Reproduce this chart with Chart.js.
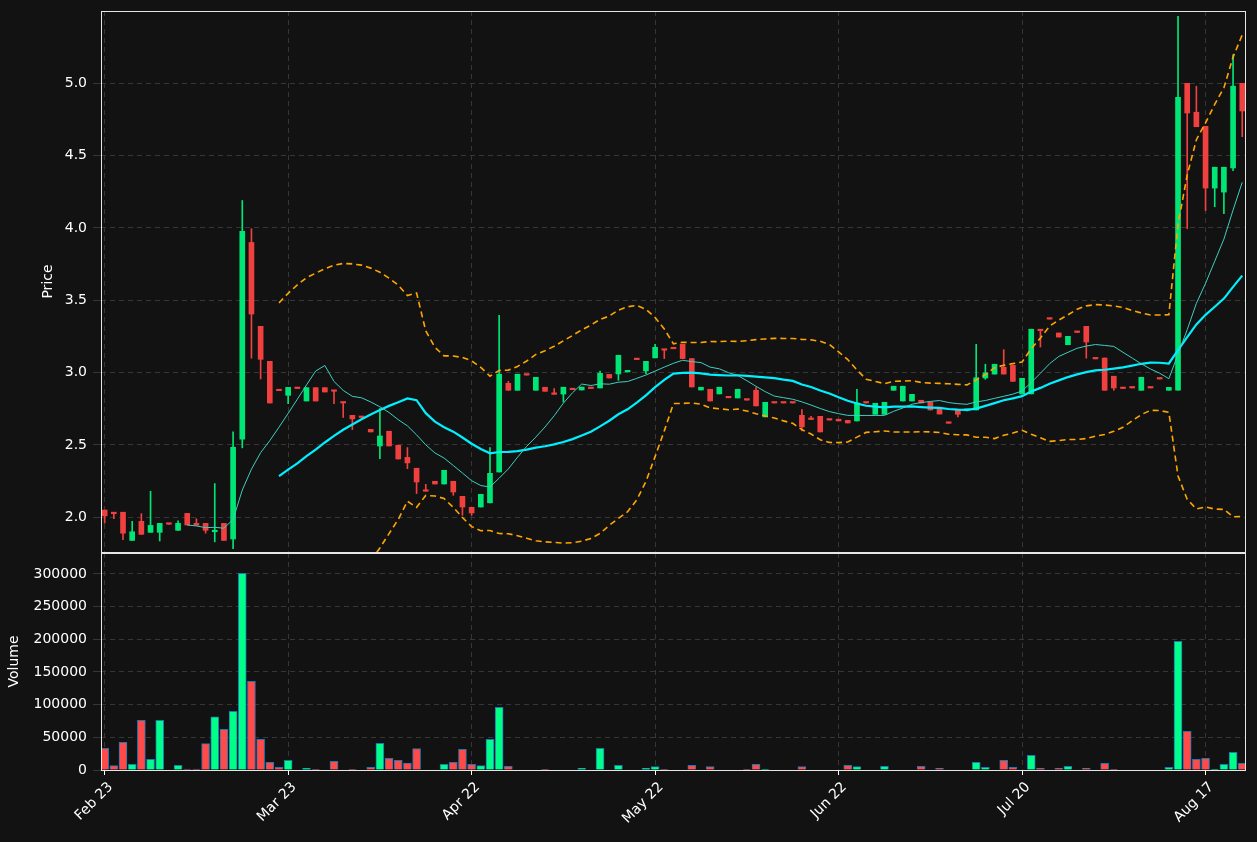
<!DOCTYPE html>
<html>
<head>
<meta charset="utf-8">
<script src="https://cdn.jsdelivr.net/npm/chart.js@4.4.1/dist/chart.umd.min.js"></script>
<style>
  html, body { margin: 0; padding: 0; background: #121212; }
  #wrap { position: relative; width: 1257px; height: 842px; background: #121212; }
  #price-box { position: absolute; left: 0; top: 0; width: 1257px; height: 553px; }
  #vol-box { position: absolute; left: 0; top: 553px; width: 1257px; height: 289px; }
</style>
</head>
<body>
<div id="wrap">
  <div id="price-box"><canvas id="chart-price"></canvas></div>
  <div id="vol-box"><canvas id="chart-volume"></canvas></div>
</div>
<script>
// ── Data ──────────────────────────────────────────────────────────────────────

const tickLabels = ["Feb 23", "Mar 23", "Apr 22", "May 22", "Jun 22", "Jul 20", "Aug 17"];
const tickStep = 20;

const opens = [
  2.05, 2.035, 2.035, 1.84, 1.972, 1.896, 1.896, 1.956, 1.91, 2.027,
  1.958, 1.958, 1.90, 1.958, 1.85, 2.54, 3.90, 3.32, 3.078, 2.885,
  2.843, 2.897, 2.804, 2.896, 2.896, 2.878, 2.795, 2.705, 2.698, 2.608,
  2.493, 2.595, 2.498, 2.414, 2.339, 2.187, 2.249, 2.23, 2.249, 2.145,
  2.069, 2.071, 2.10, 2.313, 2.926, 2.878, 2.986, 2.878, 2.899, 2.855,
  2.852, 2.885, 2.88, 2.896, 2.894, 2.988, 2.991, 3.005, 3.097, 3.012,
  3.102, 3.161, 3.17, 3.196, 3.097, 2.88, 2.885, 2.853, 2.83, 2.825,
  2.814, 2.878, 2.694, 2.793, 2.793, 2.793, 2.705, 2.68, 2.698, 2.676,
  2.678, 2.67, 2.666, 2.797, 2.712, 2.712, 2.878, 2.804, 2.804, 2.809,
  2.795, 2.753, 2.655, 2.74, 2.74, 2.742, 2.963, 2.99, 3.037, 3.05,
  2.853, 2.853, 3.297, 3.373, 3.274, 3.193, 3.283, 3.32, 3.10, 3.101,
  2.975, 2.893, 2.897, 2.878, 2.897, 2.96, 2.878, 2.878, 5.0, 4.80,
  4.703, 4.276, 4.248, 4.415, 5.0
];
const highs = [
  2.05, 2.035, 2.035, 1.972, 2.025, 2.18, 1.958, 1.958, 1.975, 2.027,
  1.99, 1.958, 2.233, 1.958, 2.59, 4.19, 3.995, 3.32, 3.078, 2.885,
  2.898, 2.897, 2.896, 2.896, 2.896, 2.878, 2.795, 2.705, 2.698, 2.608,
  2.751, 2.595, 2.498, 2.482, 2.339, 2.228, 2.249, 2.325, 2.249, 2.145,
  2.069, 2.159, 2.482, 3.396, 2.94, 2.989, 2.986, 2.968, 2.899, 2.89,
  2.899, 2.885, 2.90, 2.896, 3.01, 2.988, 3.12, 3.016, 3.097, 3.078,
  3.196, 3.161, 3.17, 3.196, 3.097, 2.899, 2.885, 2.899, 2.83, 2.885,
  2.814, 2.896, 2.795, 2.793, 2.793, 2.793, 2.744, 2.698, 2.698, 2.676,
  2.678, 2.67, 2.885, 2.797, 2.788, 2.795, 2.906, 2.906, 2.85, 2.809,
  2.795, 2.753, 2.655, 2.74, 2.745, 3.196, 3.058, 3.058, 3.159, 3.05,
  2.961, 3.30, 3.297, 3.373, 3.274, 3.251, 3.283, 3.32, 3.10, 3.101,
  2.975, 2.893, 2.897, 2.968, 2.897, 2.96, 2.898, 5.463, 5.0, 4.98,
  4.703, 4.42, 4.42, 5.198, 5.0
];
const lows = [
  1.96, 1.99, 1.845, 1.84, 1.882, 1.896, 1.836, 1.95, 1.91, 1.947,
  1.945, 1.89, 1.83, 1.84, 1.783, 2.48, 3.10, 2.956, 2.79, 2.875,
  2.786, 2.89, 2.804, 2.804, 2.866, 2.786, 2.69, 2.606, 2.69, 2.59,
  2.406, 2.493, 2.403, 2.336, 2.164, 2.18, 2.23, 2.23, 2.152, 2.014,
  2.014, 2.071, 2.10, 2.313, 2.878, 2.878, 2.983, 2.878, 2.871, 2.85,
  2.797, 2.882, 2.88, 2.89, 2.894, 2.963, 2.947, 3.005, 3.09, 2.993,
  3.102, 3.097, 3.165, 3.097, 2.901, 2.88, 2.804, 2.853, 2.826, 2.825,
  2.81, 2.77, 2.694, 2.79, 2.79, 2.79, 2.597, 2.676, 2.59, 2.672,
  2.666, 2.652, 2.666, 2.79, 2.712, 2.712, 2.878, 2.804, 2.804, 2.79,
  2.742, 2.714, 2.65, 2.694, 2.735, 2.742, 2.954, 2.99, 2.99, 2.94,
  2.853, 2.853, 3.177, 3.37, 3.246, 3.193, 3.278, 3.10, 3.095, 2.878,
  2.878, 2.89, 2.894, 2.878, 2.894, 2.956, 2.878, 2.878, 3.995, 4.70,
  4.12, 4.147, 4.099, 4.397, 4.631
];
const closes = [
  2.01, 2.025, 1.89, 1.90, 1.882, 1.944, 1.958, 1.952, 1.958, 1.947,
  1.945, 1.91, 1.91, 1.84, 2.484, 3.977, 3.405, 3.092, 2.79, 2.875,
  2.898, 2.89, 2.896, 2.804, 2.866, 2.871, 2.79, 2.68, 2.69, 2.59,
  2.562, 2.493, 2.403, 2.376, 2.244, 2.18, 2.23, 2.325, 2.175, 2.071,
  2.03, 2.159, 2.304, 2.989, 2.878, 2.989, 2.983, 2.968, 2.871, 2.85,
  2.899, 2.882, 2.90, 2.89, 2.995, 2.963, 3.12, 3.016, 3.09, 3.078,
  3.175, 3.155, 3.165, 3.097, 2.901, 2.899, 2.804, 2.899, 2.826, 2.885,
  2.81, 2.77, 2.795, 2.79, 2.79, 2.79, 2.625, 2.676, 2.59, 2.672,
  2.666, 2.652, 2.79, 2.79, 2.788, 2.795, 2.906, 2.906, 2.85, 2.79,
  2.742, 2.714, 2.65, 2.712, 2.745, 2.965, 2.998, 3.058, 2.99, 2.94,
  2.961, 3.30, 3.29, 3.37, 3.246, 3.251, 3.278, 3.212, 3.095, 2.878,
  2.894, 2.89, 2.894, 2.968, 2.894, 2.956, 2.898, 4.903, 4.795, 4.70,
  4.276, 4.42, 4.42, 4.98, 4.809
];
const volumes = [
  33200, 6600, 42400, 8700, 76000, 16300, 76000, 0, 7100, 1500,
  1500, 40300, 81200, 62200, 89800, 301000, 135800, 47000, 11700, 4100,
  14800, 0, 2500, 1000, 0, 13300, 0, 1000, 0, 4100,
  40800, 17900, 14800, 10700, 32700, 0, 0, 8700, 11700, 31600,
  8700, 6600, 47000, 96000, 5600, 0, 0, 0, 1000, 0,
  0, 0, 2500, 0, 33200, 0, 7100, 0, 0, 2500,
  5100, 1000, 0, 0, 7100, 0, 5100, 0, 0, 0,
  1000, 8700, 1000, 0, 0, 0, 5100, 0, 0, 0,
  0, 7100, 5100, 0, 0, 5600, 0, 0, 0, 5600,
  0, 2500, 0, 0, 0, 11700, 4100, 0, 14800, 4100,
  0, 22500, 2500, 0, 2500, 5600, 0, 2500, 0, 10200,
  1000, 0, 0, 0, 0, 0, 4100, 197000, 59200, 16300,
  17900, 1000, 8700, 27000, 10200
];

const UP = "#00e676";
const DOWN = "#f0403f";
const VOL_UP = "#00ff88";
const VOL_DOWN = "#ff4a4a";

// ── Indicators (moving averages & bands from the closes) ──────────────────────

function sma(period) {
  return closes.map((_, i) => {
    if (i < period - 1) return null;
    let s = 0;
    for (let k = i - period + 1; k <= i; k++) s += closes[k];
    return s / period;
  });
}

function bands(period, mult) {
  const mid = sma(period);
  const upper = [], lower = [];
  closes.forEach((_, i) => {
    if (mid[i] === null) { upper.push(null); lower.push(null); return; }
    let v = 0;
    for (let k = i - period + 1; k <= i; k++) v += (closes[k] - mid[i]) ** 2;
    const sd = Math.sqrt(v / period);
    upper.push(mid[i] + mult * sd);
    lower.push(mid[i] - mult * sd);
  });
  return { upper, lower };
}

const ma10 = sma(10);
const ma20 = sma(20);
const bb = bands(20, 2);

const pts = (arr) => arr.map((y, i) => ({ x: i, y }));

// ── Shared axis bits ──────────────────────────────────────────────────────────

const X_MIN = -0.4;
const X_MAX = 124.3;
const GRID = { color: "#363636", lineWidth: 1, offset: false };
const BORDER = { display: false, dash: [5, 4] };
const FONT = { family: "DejaVu Sans", size: 14 };

const noPad = (s) => { s.paddingTop = 0; s.paddingBottom = 0; s.paddingLeft = 0; s.paddingRight = 0; };

const frame = {
  id: "frame",
  afterDraw(chart) {
    const { ctx, chartArea: a } = chart;
    ctx.save();
    ctx.strokeStyle = "#e6e6e6";
    ctx.lineWidth = 1;
    ctx.strokeRect(a.left + 0.5, a.top + 0.5, a.right - a.left, a.bottom - a.top);
    ctx.restore();
  },
};

Chart.defaults.color = "#ffffff";
Chart.defaults.font.family = "DejaVu Sans";
Chart.defaults.animation = false;

const xTicks = (s) => { s.ticks = tickLabels.map((_, k) => ({ value: k * tickStep })); };

// ── Price panel ───────────────────────────────────────────────────────────────

const up = closes.map((c, i) => c >= opens[i]);

new Chart(document.getElementById("chart-price"), {
  type: "bar",
  data: {
    datasets: [
      {
        type: "line", data: pts(bb.upper), borderColor: "#ffa500", borderWidth: 1.6,
        borderDash: [6, 4], pointRadius: 0, tension: 0, spanGaps: false,
      },
      {
        type: "line", data: pts(bb.lower), borderColor: "#ffa500", borderWidth: 1.6,
        borderDash: [6, 4], pointRadius: 0, tension: 0, spanGaps: false,
      },
      {
        type: "line", data: pts(ma10), borderColor: "#3fcfc0", borderWidth: 1,
        pointRadius: 0, tension: 0,
      },
      {
        type: "line", data: pts(ma20), borderColor: "#00f0ff", borderWidth: 2.2,
        pointRadius: 0, tension: 0,
      },
      {
        // wicks
        data: closes.map((_, i) => ({ x: i, y: [lows[i], highs[i]] })),
        backgroundColor: up.map((u) => (u ? UP : DOWN)),
        barThickness: 1, grouped: false,
      },
      {
        // bodies
        data: closes.map((c, i) => ({ x: i, y: [Math.min(opens[i], c), Math.max(opens[i], c)] })),
        backgroundColor: up.map((u) => (u ? UP : DOWN)),
        barThickness: 5, grouped: false, minBarLength: 1.5,
      },
    ],
  },
  options: {
    responsive: true,
    maintainAspectRatio: false,
    layout: { padding: { top: 11, right: 12, bottom: 1, left: 0 } },
    plugins: { legend: { display: false }, tooltip: { enabled: false } },
    scales: {
      x: {
        type: "linear", min: X_MIN, max: X_MAX, offset: false,
        afterBuildTicks: xTicks,
        ticks: { display: false },
        grid: { ...GRID, drawTicks: false },
        border: BORDER,
        afterFit: (s) => { s.height = 0; noPad(s); },
      },
      y: {
        min: 1.76, max: 5.5,
        afterBuildTicks: (s) => { s.ticks = [2, 2.5, 3, 3.5, 4, 4.5, 5].map((v) => ({ value: v })); },
        ticks: { color: "#ffffff", font: FONT, callback: (v) => v.toFixed(1), padding: 6 },
        grid: GRID,
        border: BORDER,
        title: { display: true, text: "Price", color: "#ffffff", font: FONT, padding: { top: 40, bottom: 0 } },
        afterFit: (s) => { s.width = 101; noPad(s); },
      },
    },
  },
  plugins: [frame],
});

// ── Volume panel ──────────────────────────────────────────────────────────────

new Chart(document.getElementById("chart-volume"), {
  type: "bar",
  data: {
    datasets: [
      {
        data: volumes.map((v, i) => ({ x: i, y: v })),
        backgroundColor: up.map((u) => (u ? VOL_UP : VOL_DOWN)),
        borderColor: "#1f77b4",
        borderWidth: 1,
        barThickness: 8,
      },
    ],
  },
  options: {
    responsive: true,
    maintainAspectRatio: false,
    layout: { padding: { top: 0, right: 12, bottom: 0, left: 0 } },
    plugins: { legend: { display: false }, tooltip: { enabled: false } },
    scales: {
      x: {
        type: "linear", min: X_MIN, max: X_MAX, offset: false,
        afterBuildTicks: xTicks,
        ticks: {
          color: "#ffffff", font: FONT, minRotation: 45, maxRotation: 45, autoSkip: false,
          labelOffset: 6, padding: 4,
          callback: (v) => tickLabels[Math.round(v / tickStep)],
        },
        grid: { ...GRID, tickColor: "#ffffff", tickLength: 5, tickBorderDash: [] },
        border: BORDER,
        afterFit: (s) => { s.height = 72; noPad(s); },
      },
      y: {
        min: 0, max: 332000,
        afterBuildTicks: (s) => { s.ticks = [0, 50000, 100000, 150000, 200000, 250000, 300000].map((v) => ({ value: v })); },
        ticks: { color: "#ffffff", font: FONT, callback: (v) => String(v), padding: 6 },
        grid: GRID,
        border: BORDER,
        title: { display: true, text: "Volume", color: "#ffffff", font: FONT, padding: { top: 6, bottom: 0 } },
        afterFit: (s) => { s.width = 101; noPad(s); },
      },
    },
  },
  plugins: [frame],
});
</script>
</body>
</html>
